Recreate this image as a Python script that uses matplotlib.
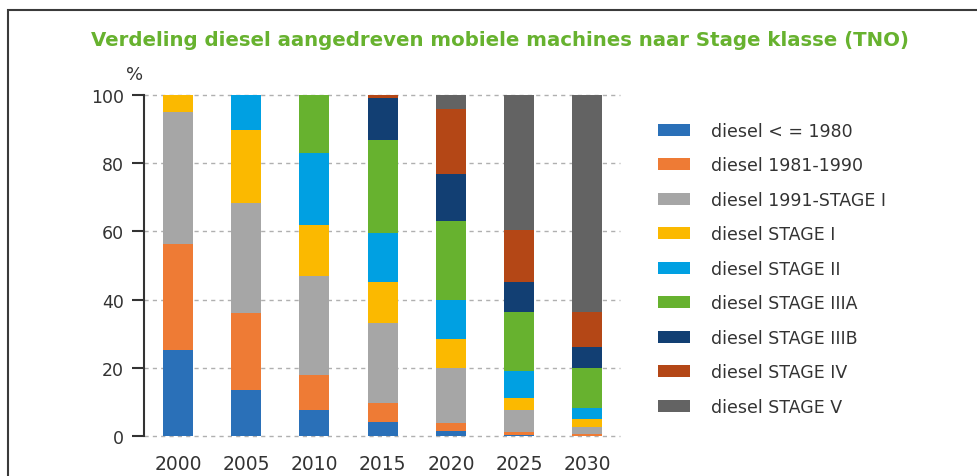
import matplotlib
matplotlib.use("Agg")
import matplotlib.pyplot as plt
from matplotlib.patches import Rectangle
import numpy as np

years = ["2000", "2005", "2010", "2015", "2020", "2025", "2030"]
categories = ["diesel < = 1980", "diesel 1981-1990", "diesel 1991-STAGE I",
              "diesel STAGE I", "diesel STAGE II", "diesel STAGE IIIA",
              "diesel STAGE IIIB", "diesel STAGE IV", "diesel STAGE V"]
le_1980 =        [25.2, 13.5, 7.6, 4.1, 1.5, 0.2, 0.0]
d_1981_1990 =    [31.1, 22.7, 10.4, 5.5, 2.4, 1.1, 0.6]
d_1991_stage1 =  [38.6, 32.2, 29.0, 23.6, 15.9, 6.3, 2.1]
stage_i =        [5.1, 21.3, 14.9, 11.9, 8.7, 3.6, 2.2]
stage_ii =       [0.0, 10.3, 21.0, 14.5, 11.4, 7.9, 3.4]
stage_iiia =     [0.0, 0.0, 17.1, 27.2, 23.1, 17.2, 11.5]
stage_iiib =     [0.0, 0.0, 0.0, 12.2, 13.8, 9.0, 6.2]
stage_iv =       [0.0, 0.0, 0.0, 1.0, 19.0, 15.1, 10.3]
stage_v =        [0.0, 0.0, 0.0, 0.0, 4.2, 39.6, 63.7]
series = [le_1980, d_1981_1990, d_1991_stage1, stage_i, stage_ii,
          stage_iiia, stage_iiib, stage_iv, stage_v]
colors = ["#2a70b8", "#ee7b35", "#a6a6a6", "#fbb900", "#00a0e2",
          "#67b22f", "#123f73", "#b44716", "#636363"]
yticks = [0, 20, 40, 60, 80, 100]

W, H = 977, 477
fig = plt.figure(figsize=(W / 100, H / 100), dpi=100)
ax = fig.add_axes([144 / W, 1 - 437 / H, (620 - 144) / W, (437 - 96) / H])

x = np.arange(len(years))
bottom = np.zeros(len(years))
for vals, col, lab in zip(series, colors, categories):
    v = np.array(vals)
    ax.bar(x, v, width=0.44, bottom=bottom, color=col, label=lab, zorder=2)
    bottom += v

ax.set_xlim(-0.5, 6.48)
ax.set_ylim(0, 100)
ax.set_yticks(yticks)
ax.set_yticklabels([str(t) for t in yticks], fontsize=12.5, color="#333333")
ax.set_xticks(x)
ax.set_xticklabels(years, fontsize=13.5, color="#333333")
ax.tick_params(axis="x", length=0, pad=13)
ax.tick_params(axis="y", length=8.5, width=1.5, color="#333333", pad=6)
for s in ["top", "right", "bottom"]:
    ax.spines[s].set_visible(False)
ax.spines["left"].set_color("#333333")
ax.spines["left"].set_linewidth(1.5)
ax.set_axisbelow(True)
ax.yaxis.grid(True, linestyle=(0, (3, 3)), color="#b0b0b0", linewidth=1.0, clip_on=False)

fig.text(135 / W, 1 - 75 / H, "%", ha="center", va="center", fontsize=13, color="#333333")

fig.text(500 / W, 1 - 40 / H,
         "Verdeling diesel aangedreven mobiele machines naar Stage klasse (TNO)",
         ha="center", va="center", fontsize=14.2, fontweight="bold", color="#67b22f")

leg = ax.legend(loc="upper left", bbox_to_anchor=(658 / W, 1 - 123 / H),
                bbox_transform=fig.transFigure, frameon=False, fontsize=12.5,
                handlelength=1.84, handleheight=0.69, labelspacing=0.95,
                handletextpad=1.2, borderpad=0, borderaxespad=0)
for t in leg.get_texts():
    t.set_color("#333333")

fig.patches.append(Rectangle((8 / W, -0.05), 1.1, 1 - 11 / H + 0.05,
                             transform=fig.transFigure, fill=False,
                             edgecolor="#3a3a3a", linewidth=1.5))

fig.savefig("out.png", dpi=100, facecolor="white")
